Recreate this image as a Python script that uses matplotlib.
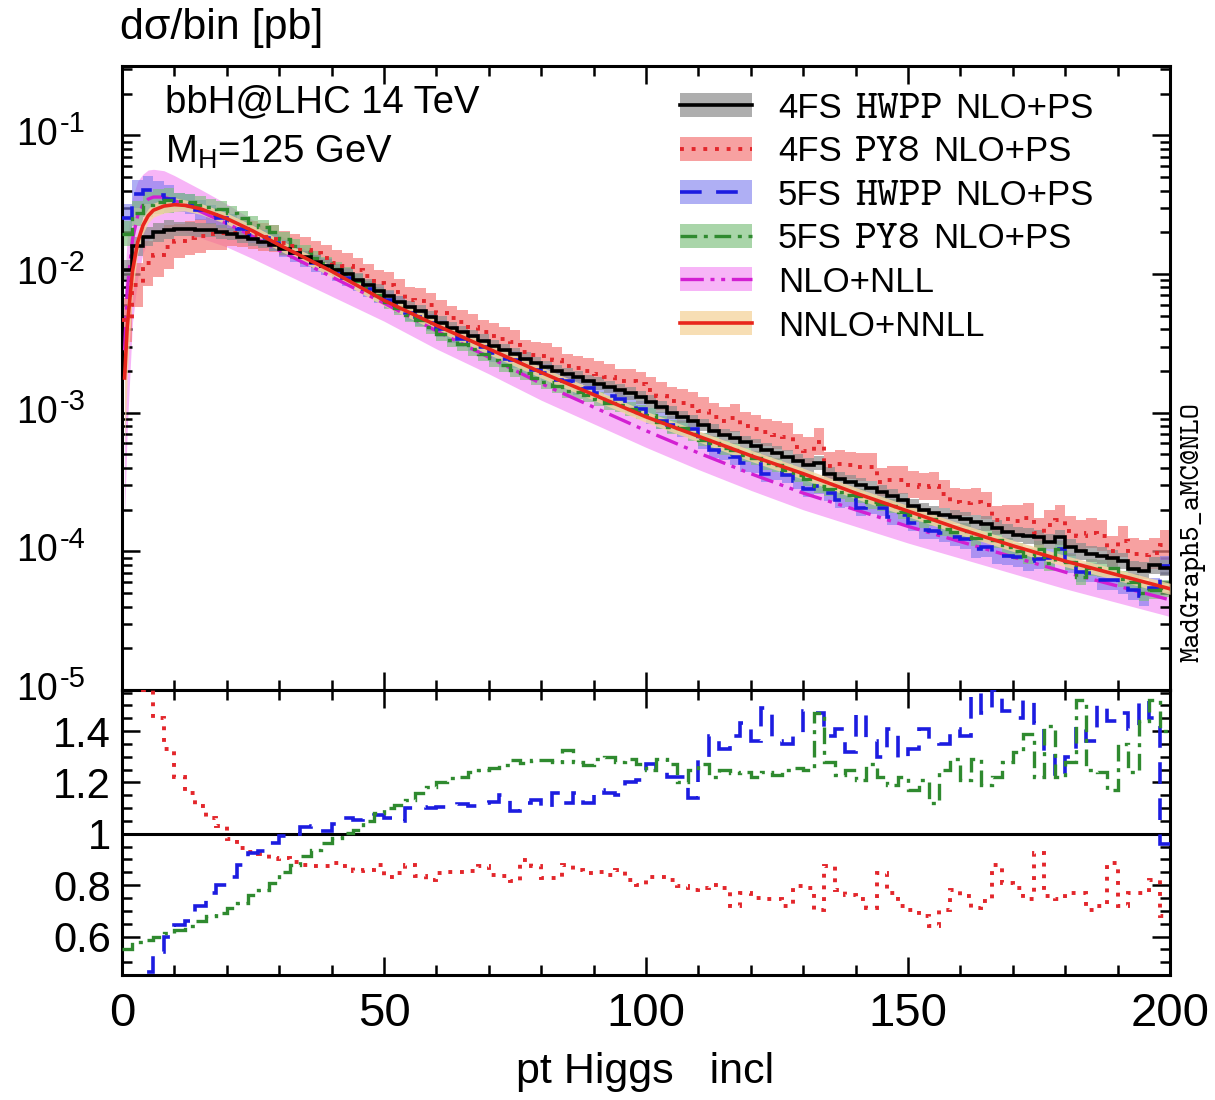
import numpy as np
import matplotlib
matplotlib.use("Agg")
import matplotlib.pyplot as plt
from matplotlib.lines import Line2D
from matplotlib.patches import Rectangle
from matplotlib.ticker import MultipleLocator, LogLocator, NullFormatter, FuncFormatter

plt.rcParams['font.family'] = ['Liberation Sans', 'DejaVu Sans']
plt.rcParams['mathtext.fontset'] = 'custom'
plt.rcParams['mathtext.rm'] = 'Liberation Sans'
plt.rcParams['axes.unicode_minus'] = False

# ---- data ----
bin_edges = np.arange(0, 202, 2)   # pt Higgs bins, 2 GeV
decades = [-5, -4, -3, -2, -1]     # labelled powers of ten on the top panel

# 4FS HWPP NLO+PS, log10(dsigma/bin [pb])
black_log10 = [
    -1.97, -1.80, -1.73, -1.70, -1.68, -1.675, -1.675, -1.68, -1.685, -1.695,
    -1.71, -1.73, -1.75, -1.77, -1.79, -1.82, -1.85, -1.88, -1.91, -1.94,
    -1.97, -2.00, -2.04, -2.08, -2.12, -2.16, -2.20, -2.24, -2.27, -2.31,
    -2.35, -2.39, -2.42, -2.45, -2.48, -2.52, -2.55, -2.58, -2.61, -2.64,
    -2.67, -2.70, -2.72, -2.745, -2.77, -2.79, -2.815, -2.84, -2.86, -2.89,
    -2.92, -2.96, -3.00, -3.03, -3.06, -3.09, -3.13, -3.16, -3.18, -3.21,
    -3.24, -3.27, -3.29, -3.32, -3.35, -3.38, -3.36, -3.44, -3.48, -3.50,
    -3.52, -3.54, -3.57, -3.60, -3.63, -3.67, -3.70, -3.72, -3.74, -3.75,
    -3.77, -3.79, -3.80, -3.83, -3.86, -3.88, -3.89, -3.90, -3.93, -3.90,
    -3.97, -4.00, -4.02, -4.03, -4.05, -4.07, -4.13, -4.14, -4.10, -4.12]

# ratio panel: 4FS HWPP / sample
ratio_4fs_py8 = [
    2.3, 1.9, 1.56, 1.45, 1.33, 1.22, 1.16, 1.11, 1.06, 1.03,
    0.98, 0.945, 0.93, 0.92, 0.90, 0.905, 0.89, 0.88, 0.875, 0.873,
    0.886, 0.873, 0.855, 0.86, 0.88, 0.83, 0.847, 0.88, 0.834, 0.82,
    0.847, 0.85, 0.85, 0.854, 0.873, 0.841, 0.834, 0.815, 0.899, 0.873,
    0.828, 0.828, 0.88, 0.86, 0.847, 0.85, 0.84, 0.86, 0.82, 0.80,
    0.83, 0.83, 0.82, 0.795, 0.78, 0.79, 0.80, 0.79, 0.72, 0.77,
    0.75, 0.745, 0.745, 0.72, 0.795, 0.79, 0.705, 0.873, 0.78, 0.76,
    0.745, 0.71, 0.847, 0.77, 0.72, 0.705, 0.68, 0.64, 0.705, 0.78,
    0.756, 0.71, 0.74, 0.88, 0.81, 0.79, 0.745, 0.926, 0.756, 0.745,
    0.77, 0.77, 0.705, 0.72, 0.886, 0.72, 0.77, 0.77, 0.82, 0.68]

ratio_5fs_hwpp = [
    0.42, 0.42, 0.46, 0.54, 0.60, 0.645, 0.66, 0.72, 0.77, 0.80,
    0.83, 0.88, 0.925, 0.935, 0.965, 0.99, 1.0, 1.025, 1.03, 1.01,
    1.04, 1.06, 1.055, 1.07, 1.075, 1.06, 1.05, 1.10, 1.105, 1.10,
    1.105, 1.11, 1.115, 1.11, 1.12, 1.125, 1.15, 1.09, 1.12, 1.13,
    1.10, 1.16, 1.12, 1.16, 1.12, 1.17, 1.16, 1.15, 1.20, 1.21,
    1.27, 1.25, 1.22, 1.22, 1.14, 1.30, 1.38, 1.33, 1.38, 1.43,
    1.36, 1.49, 1.36, 1.35, 1.38, 1.48, 1.47, 1.38, 1.41, 1.32,
    1.47, 1.36, 1.30, 1.41, 1.29, 1.33, 1.41, 1.36, 1.35, 1.41,
    1.38, 1.55, 1.47, 1.56, 1.48, 1.45, 1.52, 1.43, 1.32, 1.22,
    1.30, 1.42, 1.36, 1.50, 1.44, 1.47, 1.41, 1.52, 1.45, 0.96]

ratio_5fs_py8 = [
    0.55, 0.577, 0.588, 0.60, 0.615, 0.627, 0.64, 0.66, 0.68, 0.69,
    0.71, 0.73, 0.763, 0.78, 0.81, 0.85, 0.88, 0.912, 0.938, 0.964,
    0.983, 1.003, 1.016, 1.048, 1.08, 1.10, 1.113, 1.132, 1.158, 1.184,
    1.203, 1.216, 1.223, 1.242, 1.249, 1.255, 1.268, 1.287, 1.275, 1.287,
    1.287, 1.28, 1.326, 1.28, 1.268, 1.29, 1.30, 1.28, 1.29, 1.27,
    1.25, 1.29, 1.27, 1.20, 1.25, 1.27, 1.22, 1.25, 1.235, 1.24,
    1.22, 1.24, 1.23, 1.25, 1.255, 1.25, 1.47, 1.28, 1.23, 1.25,
    1.21, 1.27, 1.22, 1.19, 1.22, 1.17, 1.21, 1.12, 1.25, 1.29,
    1.21, 1.29, 1.19, 1.22, 1.28, 1.32, 1.39, 1.22, 1.42, 1.22,
    1.28, 1.52, 1.25, 1.24, 1.17, 1.35, 1.24, 1.44, 1.52, 1.40]

# uncertainty bands of the showered samples: log10 half-width per 10 GeV block
band_4fs_hwpp = [0.07, 0.05, 0.045, 0.045, 0.045, 0.045, 0.045, 0.045, 0.045, 0.045,
                 0.045, 0.045, 0.05, 0.05, 0.05, 0.05, 0.055, 0.055, 0.06, 0.06]
band_4fs_py8 = [0.16, 0.12, 0.10, 0.09, 0.09, 0.09, 0.09, 0.09, 0.09, 0.09,
                0.10, 0.10, 0.10, 0.10, 0.10, 0.10, 0.10, 0.11, 0.11, 0.11]
band_5fs_hwpp = [0.10, 0.07, 0.06, 0.06, 0.06, 0.06, 0.06, 0.06, 0.06, 0.06,
                 0.06, 0.06, 0.06, 0.06, 0.06, 0.06, 0.07, 0.07, 0.07, 0.07]
band_5fs_py8 = [0.09, 0.06, 0.05, 0.05, 0.05, 0.05, 0.05, 0.05, 0.05, 0.05,
                0.05, 0.05, 0.05, 0.05, 0.05, 0.05, 0.06, 0.06, 0.06, 0.06]

# resummed predictions (smooth curves)
pt_curve = [0.5, 1, 2, 3, 4, 5, 6, 8, 10, 12, 15, 20, 25, 30, 40, 50, 60, 70,
            80, 90, 100, 110, 120, 130, 140, 150, 160, 170, 180, 190, 200]
nnlo_nnll_log10 = [-2.75, -2.38, -1.98, -1.77, -1.65, -1.58, -1.54, -1.51, -1.50,
                   -1.505, -1.53, -1.60, -1.69, -1.79, -1.98, -2.19, -2.37, -2.54,
                   -2.71, -2.87, -3.03, -3.17, -3.31, -3.44, -3.58, -3.71, -3.84,
                   -3.96, -4.07, -4.17, -4.27]
nnlo_nnll_up = [0.30, 0.20, 0.10, 0.07, 0.06, 0.05, 0.05, 0.05, 0.05, 0.04, 0.04,
                0.04, 0.04, 0.04, 0.04, 0.04, 0.04, 0.04, 0.04, 0.04, 0.04, 0.04,
                0.04, 0.04, 0.04, 0.04, 0.04, 0.04, 0.04, 0.04, 0.04]
nnlo_nnll_dn = [0.50, 0.35, 0.15, 0.08, 0.06, 0.05, 0.05, 0.05, 0.05, 0.04, 0.04,
                0.04, 0.04, 0.04, 0.04, 0.04, 0.04, 0.04, 0.04, 0.04, 0.04, 0.04,
                0.04, 0.04, 0.04, 0.04, 0.04, 0.04, 0.04, 0.04, 0.04]
nlo_nll_log10 = [-2.55, -2.12, -1.75, -1.58, -1.50, -1.46, -1.445, -1.445, -1.47,
                 -1.50, -1.55, -1.635, -1.73, -1.83, -2.02, -2.21, -2.41, -2.60,
                 -2.79, -2.96, -3.13, -3.29, -3.44, -3.58, -3.70, -3.82, -3.93,
                 -4.04, -4.15, -4.25, -4.35]
nlo_nll_up = [0.45, 0.40, 0.30, 0.25, 0.22, 0.21, 0.20, 0.19, 0.18, 0.17, 0.16,
              0.14, 0.12, 0.11, 0.10, 0.09, 0.09, 0.09, 0.09, 0.09, 0.09, 0.09,
              0.09, 0.08, 0.08, 0.08, 0.08, 0.08, 0.08, 0.08, 0.08]
nlo_nll_dn = [1.20, 1.00, 0.60, 0.45, 0.35, 0.30, 0.27, 0.24, 0.22, 0.20, 0.19,
              0.17, 0.16, 0.15, 0.14, 0.13, 0.13, 0.12, 0.12, 0.12, 0.12, 0.12,
              0.12, 0.12, 0.12, 0.12, 0.12, 0.12, 0.12, 0.12, 0.12]

# legend labels: (text, typewriter?) pieces
legend_labels = [
    [('4FS', False), ('HWPP', True), ('NLO+PS', False)],
    [('4FS', False), ('PY8', True), ('NLO+PS', False)],
    [('5FS', False), ('HWPP', True), ('NLO+PS', False)],
    [('5FS', False), ('PY8', True), ('NLO+PS', False)],
    [('NLO+NLL', False)],
    [('NNLO+NNLL', False)],
]

# ---- derived histograms ----
black = 10 ** np.array(black_log10)
hists = {
    '4fs_hwpp': (black, np.repeat(band_4fs_hwpp, 5)),
    '4fs_py8': (black / np.array(ratio_4fs_py8), np.repeat(band_4fs_py8, 5)),
    '5fs_hwpp': (black / np.array(ratio_5fs_hwpp), np.repeat(band_5fs_hwpp, 5)),
    '5fs_py8': (black / np.array(ratio_5fs_py8), np.repeat(band_5fs_py8, 5)),
}
line_style = {
    '4fs_hwpp': dict(color='black', ls='-', lw=2.6),
    '4fs_py8': dict(color='#e3262b', ls=(0, (1, 2)), lw=2.8),
    '5fs_hwpp': dict(color='#1c1ce0', ls=(0, (6, 4)), lw=2.6),
    '5fs_py8': dict(color='#2f8a2f', ls=(0, (5, 2, 1.2, 2)), lw=2.4),
    'nlo_nll': dict(color='#d21fd2', ls=(0, (7, 2, 1.2, 2, 1.2, 2)), lw=2.4),
    'nnlo_nnll': dict(color='#e8261c', ls='-', lw=2.6),
}
band_color = {
    '4fs_hwpp': '#8c8c8c', '4fs_py8': '#f47a7a', '5fs_hwpp': '#7a7aee',
    '5fs_py8': '#7cbf7c', 'nlo_nll': '#f59cf5', 'nnlo_nnll': '#f6d6a2',
}
band_alpha = {'4fs_hwpp': 0.7, '4fs_py8': 0.7, '5fs_hwpp': 0.6,
              '5fs_py8': 0.65, 'nlo_nll': 0.75, 'nnlo_nnll': 0.8}

# ---- figure ----
fig = plt.figure(figsize=(12.15, 11), dpi=100)
ax = fig.add_axes([0.1004, 0.3727, 0.8626, 0.5673])
axr = fig.add_axes([0.1004, 0.1136, 0.8626, 0.2591], sharex=ax)

# bands
pt_c = np.array(pt_curve)
c_nlo = np.array(nlo_nll_log10)
ax.fill_between(pt_c, 10 ** (c_nlo - np.array(nlo_nll_dn)), 10 ** (c_nlo + np.array(nlo_nll_up)),
                color=band_color['nlo_nll'], alpha=band_alpha['nlo_nll'], lw=0, zorder=1)
for key in ['4fs_py8', '5fs_hwpp', '5fs_py8', '4fs_hwpp']:
    vals, half = hists[key]
    ax.stairs(vals * 10 ** half, bin_edges, baseline=vals * 10 ** (-half), fill=True,
              color=band_color[key], alpha=band_alpha[key], lw=0, zorder=2)
c_nnlo = np.array(nnlo_nnll_log10)
ax.fill_between(pt_c, 10 ** (c_nnlo - np.array(nnlo_nnll_dn)), 10 ** (c_nnlo + np.array(nnlo_nnll_up)),
                color=band_color['nnlo_nnll'], alpha=band_alpha['nnlo_nnll'], lw=0, zorder=3)

# central lines
ax.plot(pt_c, 10 ** c_nlo, zorder=4, **line_style['nlo_nll'])
for key in ['5fs_hwpp', '5fs_py8', '4fs_py8', '4fs_hwpp']:
    ax.stairs(hists[key][0], bin_edges, baseline=None, zorder=5, **line_style[key])
ax.plot(pt_c, 10 ** c_nnlo, zorder=6, **line_style['nnlo_nnll'])

# ratio panel
axr.axhline(1.0, color='black', lw=2.2, zorder=1)
axr.stairs(ratio_4fs_py8, bin_edges, baseline=None, zorder=3, **line_style['4fs_py8'])
axr.stairs(ratio_5fs_hwpp, bin_edges, baseline=None, zorder=3, **line_style['5fs_hwpp'])
axr.stairs(ratio_5fs_py8, bin_edges, baseline=None, zorder=3, **line_style['5fs_py8'])

# axes cosmetics
ax.set_yscale('log')
ax.set_xlim(0, 200)
ax.set_ylim(1e-5, 10 ** -0.5)
axr.set_ylim(0.45, 1.56)
ax.yaxis.set_major_locator(LogLocator(base=10, numticks=10))
ax.yaxis.set_minor_locator(LogLocator(base=10, subs=np.arange(2, 10), numticks=20))
ax.yaxis.set_minor_formatter(NullFormatter())
ax.yaxis.set_major_formatter(NullFormatter())
axr.xaxis.set_major_locator(MultipleLocator(50))
axr.xaxis.set_minor_locator(MultipleLocator(10))
axr.yaxis.set_major_locator(MultipleLocator(0.2))
axr.yaxis.set_minor_locator(MultipleLocator(0.05))
axr.yaxis.set_major_formatter(FuncFormatter(lambda v, p: f'{v:g}'))
plt.setp(ax.get_xticklabels(), visible=False)

for a in (ax, axr):
    a.tick_params(which='both', direction='in', top=True, right=True, width=1.8, colors='black')
    a.tick_params(which='major', length=13)
    a.tick_params(which='minor', length=7)
    for s in a.spines.values():
        s.set_linewidth(2.2)
axr.tick_params(axis='y', which='major', labelsize=30, pad=8)
axr.tick_params(axis='x', which='major', labelsize=34, pad=12)

# power-of-ten labels with a short hyphen in the exponent
ytr = ax.get_yaxis_transform()
for d in decades:
    ax.text(-0.061, 10.0 ** d, '10', transform=ytr, ha='right', va='center', fontsize=27)
    ax.text(-0.059, 10.0 ** (d + 0.08), '-%d' % abs(d), transform=ytr, ha='left',
            va='center', fontsize=21)

# texts
fig.text(0.099, 0.975, 'dσ/bin [pb]', fontsize=31, va='center', ha='left')
fig.text(0.531, 0.025, 'pt Higgs   incl', fontsize=31, va='center', ha='center')
ax.text(0.041, 0.942, 'bbH@LHC 14 TeV', transform=ax.transAxes, fontsize=27.5, va='center')
ax.text(0.041, 0.862, 'M$_\\mathregular{H}$=125 GeV', transform=ax.transAxes, fontsize=27.5,
        va='center')
fig.text(0.982, 0.516, 'MadGraph5_aMC@NLO', rotation=90, fontsize=21, family='cmtt10',
         va='center', ha='center')

# legend drawn by hand (typewriter words are larger than the sans text)
keys = ['4fs_hwpp', '4fs_py8', '5fs_hwpp', '5fs_py8', 'nlo_nll', 'nnlo_nnll']
ax_w = ax.get_position().width * fig.bbox.width
ax_h = ax.get_position().height * fig.bbox.height
hx0, hx1, tx = 0.532, 0.601, 0.626
row_y = 0.9375
row_step = 43.6 / ax_h
band_h = 24 / ax_h
fig.canvas.draw()
renderer = fig.canvas.get_renderer()
for key, pieces in zip(keys, legend_labels):
    ax.add_patch(Rectangle((hx0, row_y - band_h / 2), hx1 - hx0, band_h, transform=ax.transAxes,
                           facecolor=band_color[key], alpha=band_alpha[key], lw=0,
                           clip_on=False, zorder=7))
    ax.add_line(Line2D([hx0, hx1], [row_y, row_y], transform=ax.transAxes, clip_on=False,
                       zorder=8, **line_style[key]))
    x = tx
    base = row_y - 12.5 / ax_h
    for word, mono in pieces:
        if mono:
            t = ax.text(x, base, word, transform=ax.transAxes, fontsize=30, family='cmtt10',
                        va='baseline', zorder=8)
        else:
            t = ax.text(x, base, word, transform=ax.transAxes, fontsize=25, va='baseline',
                        zorder=8)
        x += (t.get_window_extent(renderer).width + 13) / ax_w
    row_y -= row_step

fig.savefig('out.png', dpi=100, facecolor='white')
